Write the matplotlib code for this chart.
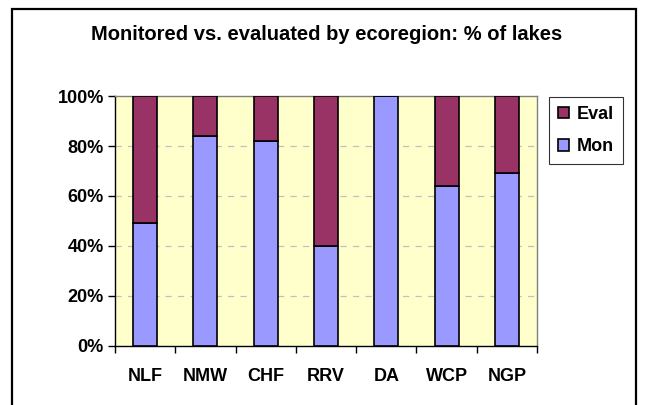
import matplotlib.pyplot as plt
from matplotlib.patches import Rectangle
from matplotlib.ticker import FixedLocator, NullFormatter

# Data (% of lakes)
regions = ['NLF', 'NMW', 'CHF', 'RRV', 'DA', 'WCP', 'NGP']
mon = [49, 84, 82, 40, 100, 64, 69]
evaluated = [100 - m for m in mon]

plt.rcParams['font.family'] = ['Liberation Sans', 'DejaVu Sans']
plt.rcParams['font.weight'] = 'bold'

mon_color = '#9999FF'
eval_color = '#993366'

fig = plt.figure(figsize=(6.47, 4.05), dpi=100)
ax = fig.add_axes([0.1777, 0.1464, 0.6523, 0.6163])
ax.set_facecolor('#FFFFCC')

x = range(len(regions))
ax.bar(x, mon, width=0.4, color=mon_color, edgecolor='black', linewidth=1.2, label='Mon', zorder=3)
ax.bar(x, evaluated, width=0.4, bottom=mon, color=eval_color, edgecolor='black', linewidth=1.2, label='Eval', zorder=3)

ax.set_xlim(-0.5, len(regions) - 0.5)
ax.set_ylim(0, 100)

# dashed gridlines
for v in [20, 40, 60, 80]:
    ax.axhline(v, color='#C0C0C0', linestyle=(0, (5, 5)), linewidth=0.9, zorder=1)

ax.set_yticks([0, 20, 40, 60, 80, 100])
ax.set_yticklabels(['0%', '20%', '40%', '60%', '80%', '100%'], fontsize=13, fontweight='bold')
ax.tick_params(axis='y', length=5, width=1, pad=3)

# category labels centered, ticks at boundaries
ax.set_xticks(list(x))
ax.set_xticklabels(regions, fontsize=13, fontweight='bold')
ax.tick_params(axis='x', which='major', length=0, pad=16)
ax.xaxis.set_minor_locator(FixedLocator([i - 0.5 for i in range(len(regions) + 1)]))
ax.xaxis.set_minor_formatter(NullFormatter())
ax.tick_params(axis='x', which='minor', length=5, width=1, direction='out')

ax.spines['left'].set_color('black')
ax.spines['bottom'].set_color('black')
ax.spines['top'].set_color('#808080')
ax.spines['right'].set_color('#808080')
for s in ax.spines.values():
    s.set_linewidth(1)

handles, labels = ax.get_legend_handles_labels()
leg = fig.legend(handles[::-1], labels[::-1], loc='upper left',
                 bbox_to_anchor=(549 / 647, 1 - 97 / 405),
                 prop={'size': 13, 'weight': 'bold'}, frameon=True, fancybox=False,
                 handlelength=0.6, handleheight=0.6, handletextpad=0.45,
                 labelspacing=0.85, borderpad=0.5, borderaxespad=0)
leg.get_frame().set_edgecolor('black')
leg.get_frame().set_linewidth(0.8)

fig.text(0.505, 1 - 34 / 405, 'Monitored vs. evaluated by ecoregion: % of lakes',
         ha='center', va='center', fontsize=14.5, fontweight='bold')

# outer chart frame (bottom edge falls outside the image)
fig.patches.append(Rectangle((12 / 647, -0.05), (636 - 12) / 647, 1 - 9 / 405 + 0.05,
                             transform=fig.transFigure, fill=False,
                             edgecolor='black', linewidth=1.6))

fig.savefig('out.png', dpi=100)
